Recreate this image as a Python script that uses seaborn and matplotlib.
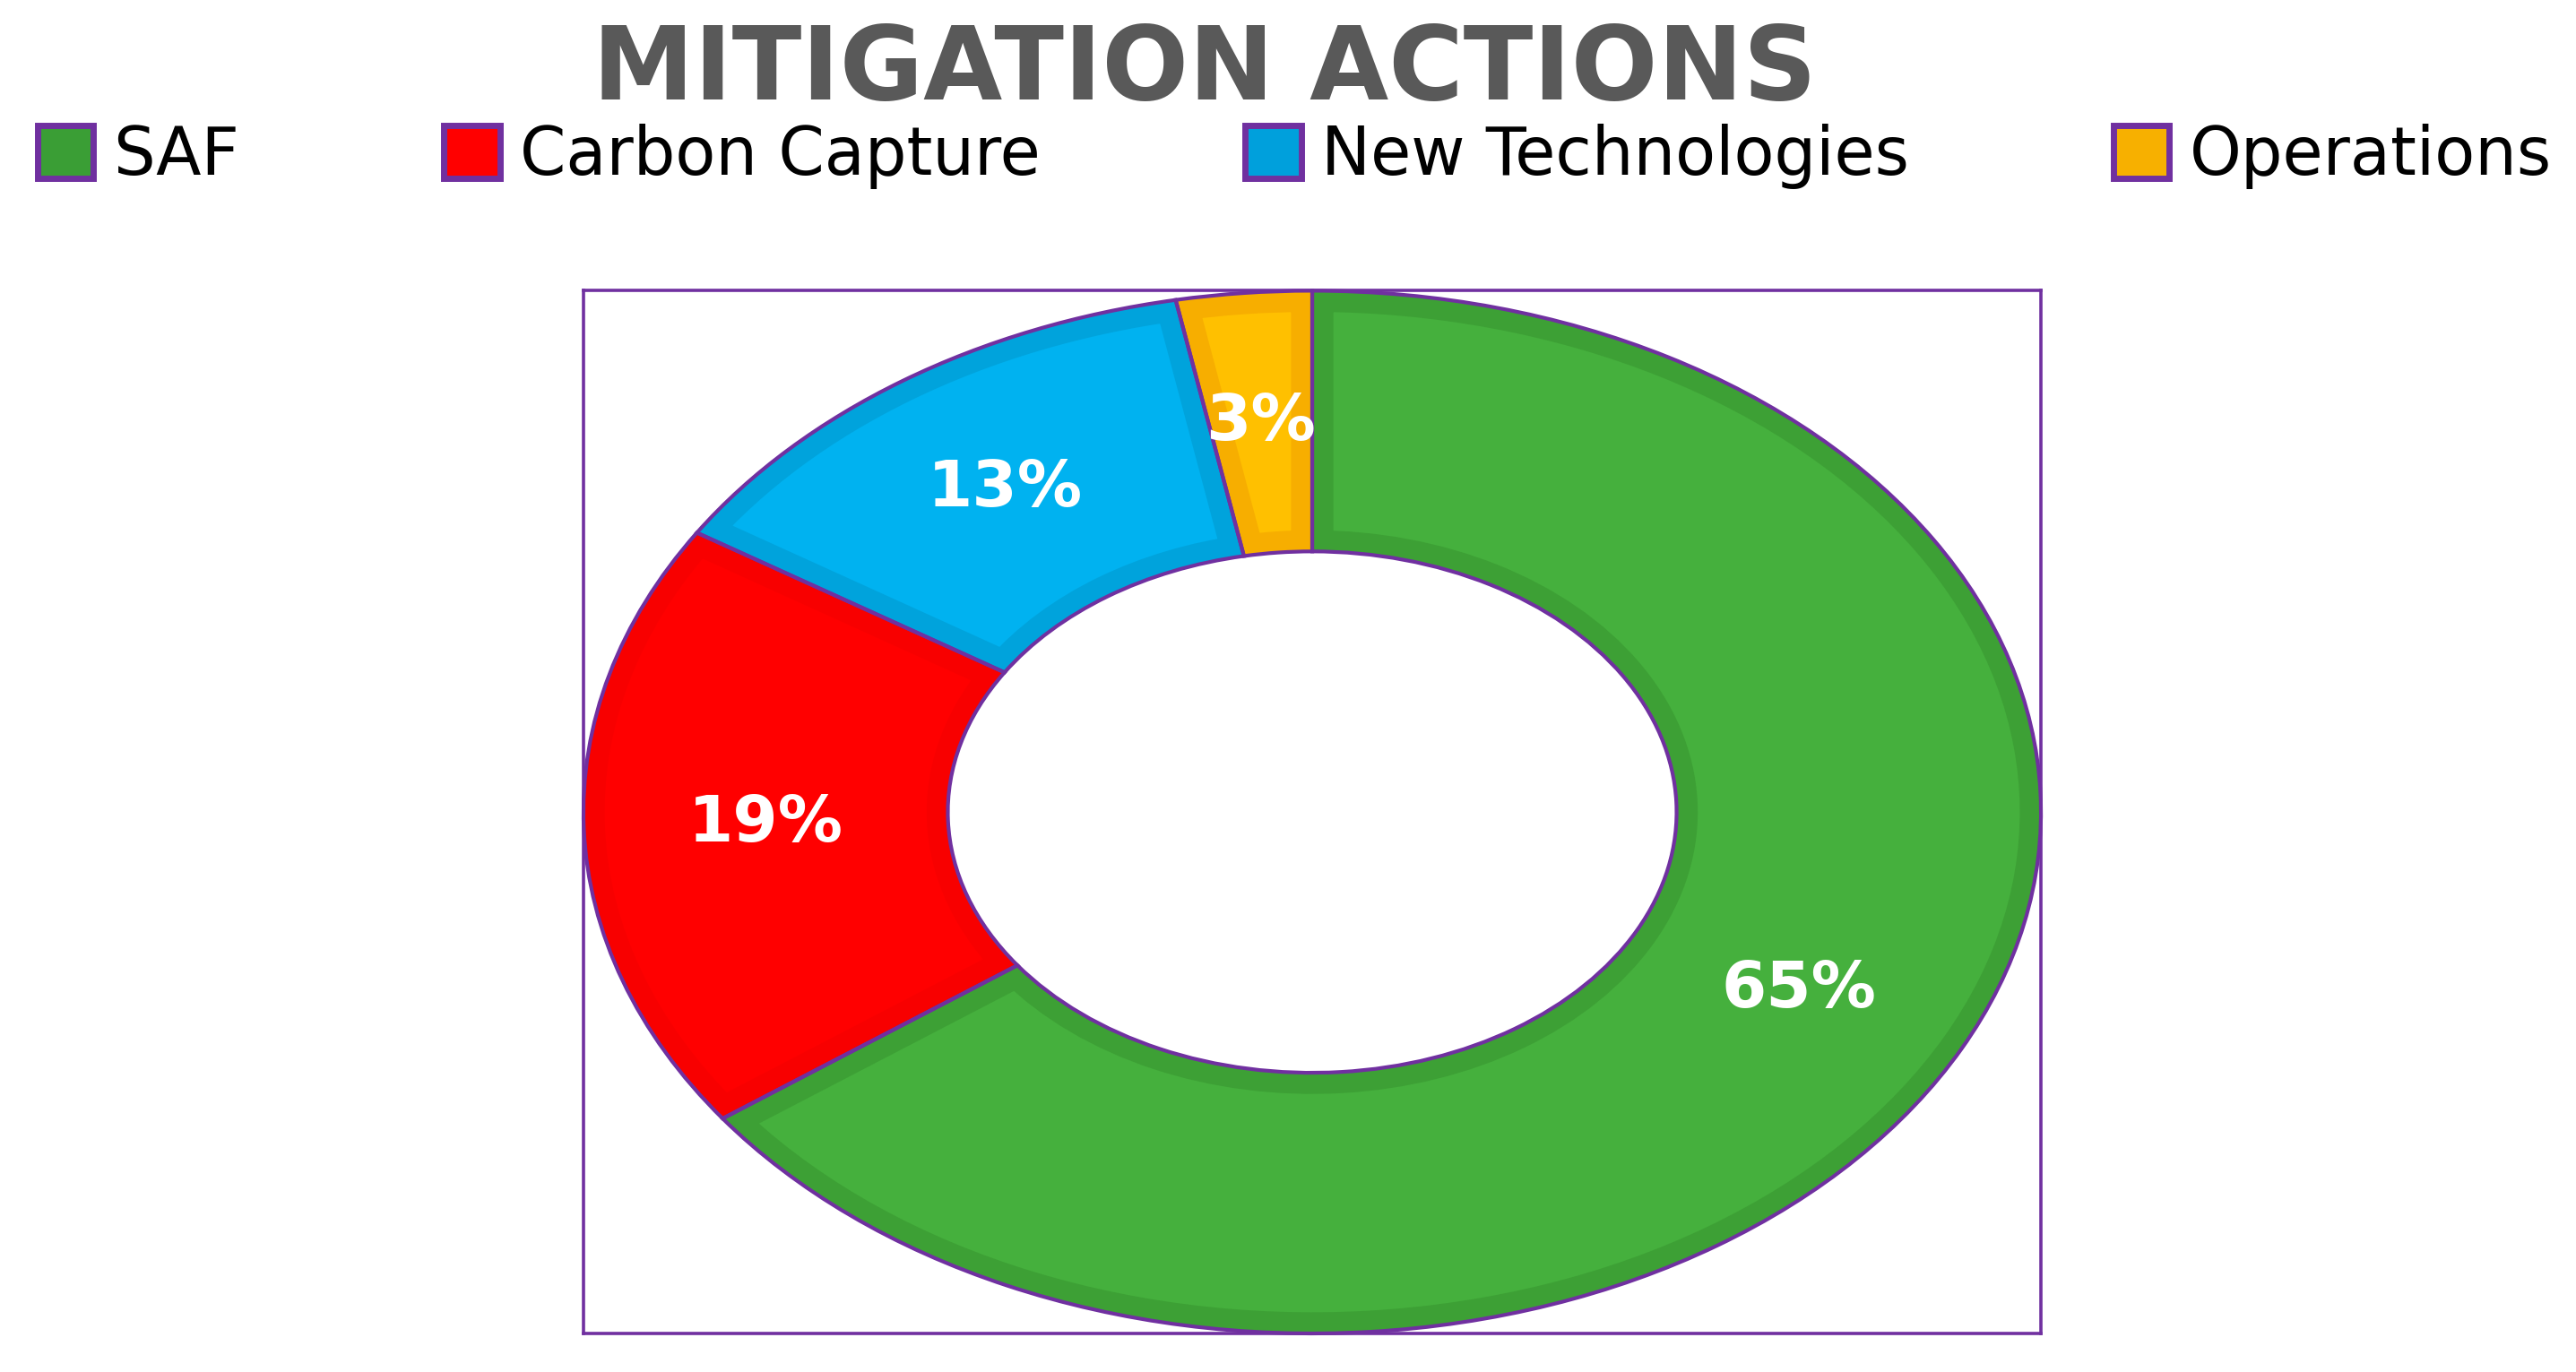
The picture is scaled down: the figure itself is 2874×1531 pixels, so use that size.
import matplotlib
matplotlib.use("Agg")
import matplotlib.pyplot as plt
import seaborn as sns
from matplotlib.patches import Patch

# ---- data ----
categories = ["SAF", "Carbon Capture", "New Technologies", "Operations"]
shares = [65, 19, 13, 3]
fill_colors = ["#45B03D", "#FF0000", "#00B2F0", "#FFC000"]
bevel_colors = ["#3DA035", "#F80000", "#00A3DC", "#F7AE00"]
legend_colors = ["#3A9E35", "#FF0000", "#00A0DC", "#F7B000"]
title_text = "MITIGATION ACTIONS"

PURPLE = "#7030A0"

sns.set_theme(style="white")
plt.rcParams['font.family'] = ['DejaVu Sans']

fig = plt.figure(figsize=(28.74, 15.31), dpi=100)
ax = fig.add_axes([0.2265, 0.0281, 0.5658, 0.760])

wedges, texts, autotexts = ax.pie(
    shares, colors=fill_colors, startangle=90, counterclock=False,
    radius=1.0, autopct='%.0f%%', pctdistance=0.75,
    wedgeprops=dict(width=0.5, edgecolor="none", linewidth=0),
    textprops=dict(color='white', fontsize=52, fontweight='bold'))

# inner bevel effect: thick darker stroke clipped to each wedge
for w, bc in zip(wedges, bevel_colors):
    w.set_edgecolor(bc)
    w.set_linewidth(34)
    w.set_clip_on(True)
    w.set_clip_path(w)

# purple outlines
outline, _ = ax.pie(
    shares, colors=["none"] * len(shares), startangle=90, counterclock=False,
    radius=1.0,
    wedgeprops=dict(width=0.5, edgecolor=PURPLE, linewidth=3.0, fill=False))

for t in autotexts:
    t.set_zorder(10)

ax.set_aspect('auto')
ax.set_xlim(-1.0, 1.0)
ax.set_ylim(-1.0, 1.0)
ax.set_frame_on(True)
for s in ax.spines.values():
    s.set_visible(True)
    s.set_color(PURPLE)
    s.set_linewidth(2.6)
ax.set_xticks([])
ax.set_yticks([])

fig.text(0.4677, 0.9275, title_text, ha='center', va='baseline',
         fontsize=82, fontweight='bold', color='#595959')

handles = [Patch(facecolor=c, edgecolor=PURPLE, linewidth=5) for c in legend_colors]
fig.legend(handles, categories, loc='center', bbox_to_anchor=(0.5025, 0.886),
           ncol=4, frameon=False, fontsize=53, handlelength=0.85,
           handleheight=0.85, handletextpad=0.3, columnspacing=3.1,
           labelcolor='black')

fig.savefig("out.png", dpi=100, facecolor='white')
